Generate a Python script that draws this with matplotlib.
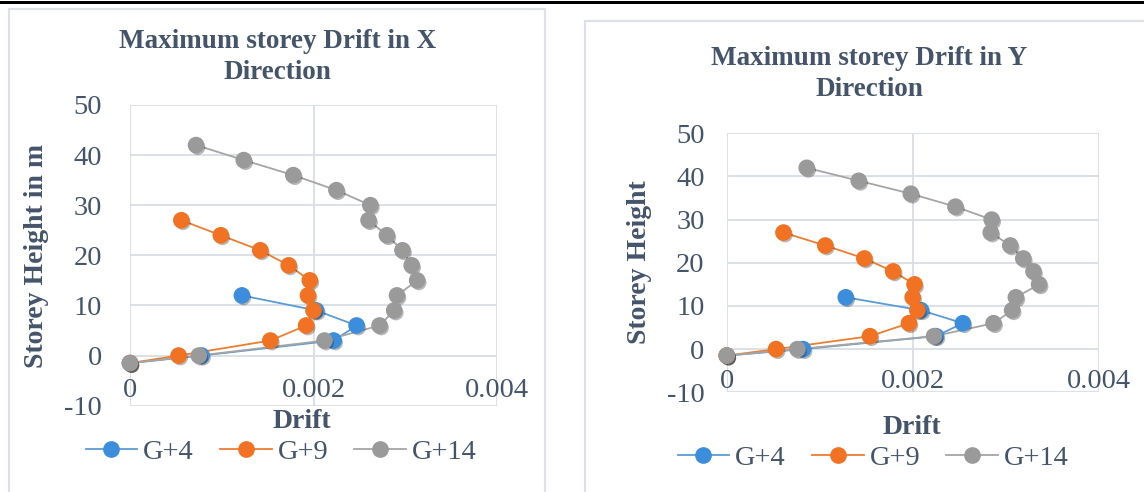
import matplotlib
matplotlib.use("Agg")
import matplotlib.pyplot as plt
import matplotlib.patheffects as pe
from matplotlib.lines import Line2D
from matplotlib.patches import Rectangle

# ---- data -------------------------------------------------------------
series_names = ["G+4", "G+9", "G+14"]

height_g4 = [12, 9, 6, 3, 0, -1.5]
height_g9 = [27, 24, 21, 18, 15, 12, 9, 6, 3, 0, -1.5]
height_g14 = [42, 39, 36, 33, 30, 27, 24, 21, 18, 15, 12, 9, 6, 3, 0, -1.5]

drift_x_g4 = [0.00122, 0.00203, 0.00247, 0.00222, 0.00078, 0.0]
drift_x_g9 = [0.00056, 0.00099, 0.00142, 0.00173, 0.00196, 0.00194,
              0.00200, 0.00192, 0.00153, 0.00053, 0.0]
drift_x_g14 = [0.00072, 0.00124, 0.00178, 0.00225, 0.00262, 0.00260,
               0.00280, 0.00297, 0.00307, 0.00313, 0.00291, 0.00288,
               0.00272, 0.00212, 0.00075, 0.0]

drift_y_g4 = [0.00128, 0.00209, 0.00254, 0.00225, 0.00082, 0.0]
drift_y_g9 = [0.00061, 0.00106, 0.00148, 0.00179, 0.00202, 0.00200,
              0.00205, 0.00196, 0.00154, 0.00053, 0.0]
drift_y_g14 = [0.00086, 0.00142, 0.00198, 0.00246, 0.00285, 0.00284,
               0.00305, 0.00319, 0.00330, 0.00336, 0.00311, 0.00307,
               0.00287, 0.00223, 0.00076, 0.0]

x_ticks = [0, 0.002, 0.004]
x_tick_labels = ["0", "0.002", "0.004"]
y_ticks = [-10, 0, 10, 20, 30, 40, 50]

# ---- style ------------------------------------------------------------
W, H = 1144, 492
TEXT = "#44546A"
GRID = "#D9DDE5"
FRAME = "#DCE1E8"
line_colors = ["#5B9BD5", "#ED7D31", "#A5A5A5"]
marker_colors = ["#3C8DDB", "#F07222", "#9A9A9A"]
SERIF = ["Liberation Serif", "DejaVu Serif"]

plt.rcParams["font.family"] = SERIF
plt.rcParams["axes.unicode_minus"] = False

fig = plt.figure(figsize=(W / 100, H / 100), dpi=100)
fig.patch.set_facecolor("white")


def fx(px):
    return px / W


def fy(py):
    return 1 - py / H


# black rule across the top and the two light chart frames
fig.add_artist(Rectangle((0, fy(4)), 1, 3 / H, transform=fig.transFigure,
                         facecolor="black", edgecolor="none"))
fig.add_artist(Rectangle((fx(9), fy(H + 5)), fx(545 - 9), (H + 5 - 9) / H,
                         transform=fig.transFigure, facecolor="none",
                         edgecolor=FRAME, linewidth=1.6))
fig.add_artist(Rectangle((fx(585), fy(H + 5)), fx(1160 - 585), (H + 5 - 21) / H,
                         transform=fig.transFigure, facecolor="none",
                         edgecolor=FRAME, linewidth=1.6))

shadow = [pe.SimplePatchShadow(offset=(1.2, -1.6), shadow_rgbFace="#000000",
                               alpha=0.28), pe.Normal()]


def panel(box, drifts, title, ylabel, title_xy, ylabel_xy, xlabel_xy,
          xtick_pad, ytick_pad, legend_y, legend_x):
    x0, x1, ytop, ybot = box
    ax = fig.add_axes([fx(x0), fy(ybot), fx(x1 - x0), (ybot - ytop) / H])
    ax.set_xlim(0, 0.004)
    ax.set_ylim(-10, 50)
    ax.set_xticks(x_ticks)
    ax.set_xticklabels(x_tick_labels)
    ax.set_yticks(y_ticks)
    ax.grid(True, color=GRID, linewidth=1.3)
    ax.set_axisbelow(True)
    for s in ["top", "right", "left"]:
        ax.spines[s].set_visible(False)
    ax.spines["bottom"].set_position(("data", 0))
    ax.spines["bottom"].set_visible(False)
    ax.tick_params(axis="both", length=0, labelsize=20.5, labelcolor=TEXT)
    ax.tick_params(axis="x", pad=xtick_pad)
    ax.tick_params(axis="y", pad=ytick_pad)

    heights = [height_g4, height_g9, height_g14]
    for d, h, lc, mc in zip(drifts, heights, line_colors, marker_colors):
        ax.plot(d, h, color=lc, linewidth=1.3, zorder=3)
        ax.plot(d, h, linestyle="none", marker="o", markersize=11,
                markerfacecolor=mc, markeredgecolor=mc, zorder=4,
                path_effects=shadow, clip_on=False)

    # titles and axis captions
    fig.text(fx(title_xy[0]), fy(title_xy[1]), title, ha="center",
             va="center", fontsize=19.5, fontweight="bold", color=TEXT,
             linespacing=1.3)
    fig.text(fx(ylabel_xy[0]), fy(ylabel_xy[1]), ylabel, rotation=90,
             ha="center", va="center", fontsize=20, fontweight="bold",
             color=TEXT)
    fig.text(fx(xlabel_xy[0]), fy(xlabel_xy[1]), "Drift", ha="center",
             va="center", fontsize=20, fontweight="bold", color=TEXT)

    handles = [Line2D([0], [0], color=lc, linewidth=1.3, marker="o",
                      markersize=11, markerfacecolor=mc, markeredgecolor=mc)
               for lc, mc in zip(line_colors, marker_colors)]
    leg = fig.legend(handles, series_names, loc="center",
                     bbox_to_anchor=(fx(legend_x), fy(legend_y)), ncol=3,
                     frameon=False, fontsize=20.5, handlelength=1.82,
                     handletextpad=0.21, columnspacing=0.9,
                     borderaxespad=0, borderpad=0)
    for t in leg.get_texts():
        t.set_color(TEXT)
    return ax


panel((130, 497, 105, 405.7),
      [drift_x_g4, drift_x_g9, drift_x_g14],
      "Maximum storey Drift in X\nDirection", "Storey Height in m",
      (277.5, 57), (37, 256), (301.5, 421), 16, 20, 452, 281)

panel((726.8, 1098.6, 133.3, 392.3),
      [drift_y_g4, drift_y_g9, drift_y_g14],
      "Maximum storey Drift in Y\nDirection", "Storey Height",
      (869, 74), (640, 262), (911.8, 428), 14, 16, 458, 873)

fig.savefig("out.png", dpi=100, facecolor="white")
